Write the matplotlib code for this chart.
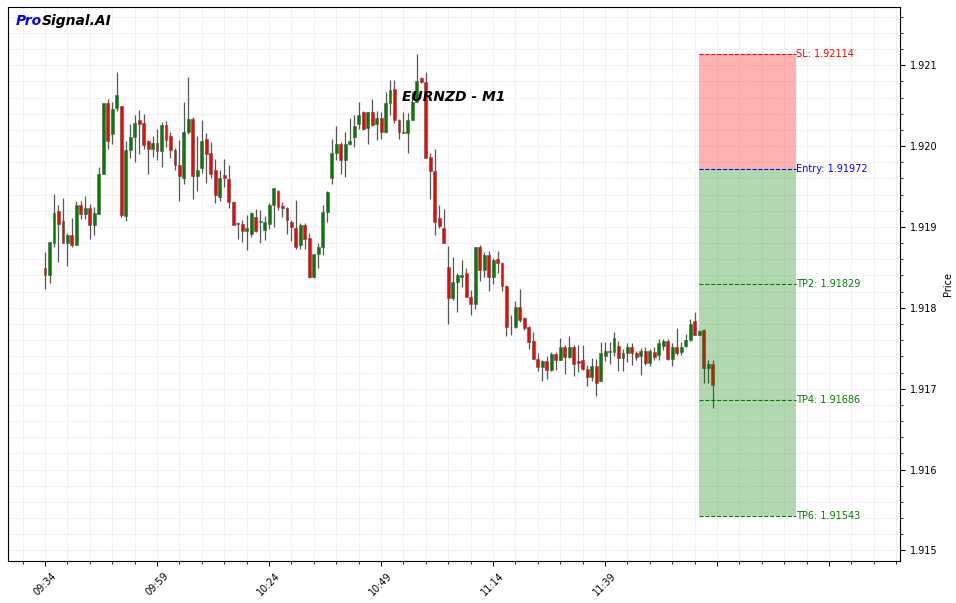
import numpy as np
import matplotlib
matplotlib.use("Agg")
import matplotlib.pyplot as plt
from matplotlib.ticker import MultipleLocator, FormatStrFormatter

# EURNZD 1-minute candles, 09:34 .. 12:03
opens = [1.91849, 1.91841, 1.91880, 1.91920, 1.91907, 1.91880, 1.91890, 1.91878, 1.91927, 1.91916,
         1.91924, 1.91903, 1.91916, 1.91966, 1.92053, 1.92015, 1.92047, 1.92050, 1.91913, 1.91995,
         1.92011, 1.92032, 1.92029, 1.92006, 1.91997, 1.92004, 1.91994, 1.92026, 1.92012, 1.91995,
         1.91977, 1.91960, 1.92018, 1.92034, 1.91963, 1.91973, 1.92009, 1.91991, 1.91970, 1.91937,
         1.91964, 1.91959, 1.91931, 1.91905, 1.91904, 1.91895, 1.91891, 1.91912, 1.91906, 1.91896,
         1.91904, 1.91927, 1.91945, 1.91926, 1.91924, 1.91906, 1.91899, 1.91878, 1.91903, 1.91886,
         1.91838, 1.91866, 1.91875, 1.91918, 1.91961, 1.91991, 1.92003, 1.91983, 1.92002, 1.92011,
         1.92027, 1.92042, 1.92022, 1.92042, 1.92027, 1.92035, 1.92017, 1.92053, 1.92070, 1.92032,
         1.92017, 1.92016, 1.92032, 1.92055, 1.92084, 1.92079, 1.91986, 1.91969, 1.91911, 1.91899,
         1.91851, 1.91812, 1.91832, 1.91838, 1.91843, 1.91814, 1.91805, 1.91875, 1.91847, 1.91865,
         1.91838, 1.91860, 1.91856, 1.91827, 1.91776, 1.91776, 1.91801, 1.91787, 1.91776, 1.91759,
         1.91737, 1.91727, 1.91734, 1.91723, 1.91743, 1.91736, 1.91752, 1.91739, 1.91751, 1.91734,
         1.91735, 1.91724, 1.91714, 1.91728, 1.91710, 1.91741, 1.91745, 1.91746, 1.91753, 1.91738,
         1.91744, 1.91751, 1.91744, 1.91741, 1.91747, 1.91732, 1.91745, 1.91742, 1.91753, 1.91759,
         1.91737, 1.91752, 1.91746, 1.91753, 1.91760, 1.91784, 1.91767, 1.91773, 1.91726, 1.91730]
highs = [1.91869, 1.91881, 1.91941, 1.91927, 1.91936, 1.91893, 1.91911, 1.91932, 1.91932, 1.91938,
         1.91929, 1.91925, 1.91974, 1.92053, 1.92058, 1.92055, 1.92092, 1.92050, 1.92006, 1.92027,
         1.92039, 1.92045, 1.92040, 1.92007, 1.92012, 1.92021, 1.92030, 1.92031, 1.92018, 1.91998,
         1.92008, 1.92054, 1.92085, 1.92036, 1.92013, 1.92032, 1.92016, 1.92005, 1.91984, 1.91970,
         1.91984, 1.91977, 1.91932, 1.91906, 1.91908, 1.91915, 1.91919, 1.91922, 1.91921, 1.91913,
         1.91930, 1.91948, 1.91946, 1.91931, 1.91925, 1.91908, 1.91933, 1.91905, 1.91905, 1.91892,
         1.91866, 1.91880, 1.91927, 1.91945, 1.92009, 1.92025, 1.92005, 1.92017, 1.92035, 1.92038,
         1.92055, 1.92044, 1.92042, 1.92058, 1.92044, 1.92042, 1.92067, 1.92082, 1.92082, 1.92033,
         1.92042, 1.92041, 1.92067, 1.92114, 1.92086, 1.92092, 1.91992, 1.91996, 1.91927, 1.91922,
         1.91877, 1.91863, 1.91843, 1.91859, 1.91849, 1.91822, 1.91875, 1.91878, 1.91869, 1.91870,
         1.91862, 1.91870, 1.91857, 1.91828, 1.91791, 1.91809, 1.91823, 1.91789, 1.91777, 1.91770,
         1.91744, 1.91735, 1.91741, 1.91745, 1.91746, 1.91763, 1.91754, 1.91765, 1.91754, 1.91754,
         1.91754, 1.91729, 1.91738, 1.91737, 1.91758, 1.91758, 1.91758, 1.91770, 1.91759, 1.91749,
         1.91757, 1.91756, 1.91747, 1.91750, 1.91752, 1.91749, 1.91752, 1.91762, 1.91762, 1.91762,
         1.91757, 1.91775, 1.91758, 1.91768, 1.91786, 1.91795, 1.91772, 1.91774, 1.91735, 1.91735]
lows = [1.91823, 1.91831, 1.91875, 1.91857, 1.91880, 1.91852, 1.91875, 1.91878, 1.91910, 1.91910,
        1.91885, 1.91890, 1.91916, 1.91966, 1.91996, 1.92002, 1.92044, 1.91912, 1.91907, 1.91985,
        1.91980, 1.91990, 1.91997, 1.91966, 1.91987, 1.91983, 1.91974, 1.91999, 1.91985, 1.91970,
        1.91932, 1.91953, 1.92015, 1.91934, 1.91945, 1.91967, 1.91954, 1.91961, 1.91930, 1.91932,
        1.91950, 1.91923, 1.91902, 1.91885, 1.91881, 1.91871, 1.91887, 1.91894, 1.91880, 1.91884,
        1.91898, 1.91900, 1.91921, 1.91912, 1.91891, 1.91883, 1.91873, 1.91873, 1.91873, 1.91837,
        1.91837, 1.91849, 1.91865, 1.91906, 1.91953, 1.91983, 1.91966, 1.91962, 1.92001, 1.91999,
        1.92021, 1.92020, 1.92003, 1.92025, 1.92007, 1.92009, 1.92016, 1.92038, 1.92029, 1.92009,
        1.92016, 1.91992, 1.92032, 1.92055, 1.92078, 1.91985, 1.91934, 1.91890, 1.91899, 1.91880,
        1.91780, 1.91810, 1.91795, 1.91826, 1.91813, 1.91791, 1.91799, 1.91833, 1.91838, 1.91821,
        1.91830, 1.91843, 1.91821, 1.91765, 1.91767, 1.91775, 1.91783, 1.91772, 1.91749, 1.91737,
        1.91722, 1.91709, 1.91712, 1.91722, 1.91723, 1.91735, 1.91718, 1.91738, 1.91716, 1.91721,
        1.91723, 1.91703, 1.91710, 1.91691, 1.91710, 1.91734, 1.91730, 1.91740, 1.91722, 1.91722,
        1.91733, 1.91729, 1.91735, 1.91717, 1.91729, 1.91728, 1.91735, 1.91735, 1.91748, 1.91735,
        1.91728, 1.91742, 1.91742, 1.91752, 1.91759, 1.91766, 1.91766, 1.91707, 1.91707, 1.91676]
closes = [1.91841, 1.91881, 1.91917, 1.91904, 1.91880, 1.91890, 1.91878, 1.91927, 1.91916, 1.91924,
          1.91903, 1.91917, 1.91966, 1.92053, 1.92006, 1.92046, 1.92063, 1.91915, 1.91995, 1.92011,
          1.92029, 1.92027, 1.92001, 1.91997, 1.92004, 1.91994, 1.92026, 1.92008, 1.91995, 1.91977,
          1.91963, 1.92017, 1.92033, 1.91963, 1.91971, 1.92006, 1.91990, 1.91965, 1.91940, 1.91961,
          1.91960, 1.91931, 1.91903, 1.91904, 1.91895, 1.91899, 1.91917, 1.91895, 1.91906, 1.91906,
          1.91927, 1.91948, 1.91925, 1.91924, 1.91908, 1.91900, 1.91875, 1.91903, 1.91885, 1.91838,
          1.91866, 1.91875, 1.91918, 1.91943, 1.91991, 1.92003, 1.91983, 1.92002, 1.92006, 1.92025,
          1.92038, 1.92021, 1.92042, 1.92026, 1.92035, 1.92017, 1.92053, 1.92069, 1.92032, 1.92017,
          1.92016, 1.92032, 1.92055, 1.92081, 1.92079, 1.91985, 1.91969, 1.91906, 1.91901, 1.91880,
          1.91812, 1.91832, 1.91840, 1.91841, 1.91814, 1.91805, 1.91875, 1.91847, 1.91865, 1.91838,
          1.91859, 1.91856, 1.91827, 1.91776, 1.91776, 1.91801, 1.91785, 1.91775, 1.91758, 1.91737,
          1.91727, 1.91734, 1.91723, 1.91743, 1.91736, 1.91752, 1.91739, 1.91751, 1.91731, 1.91732,
          1.91724, 1.91714, 1.91728, 1.91707, 1.91744, 1.91747, 1.91747, 1.91763, 1.91738, 1.91744,
          1.91751, 1.91744, 1.91739, 1.91747, 1.91732, 1.91747, 1.91739, 1.91757, 1.91759, 1.91737,
          1.91751, 1.91744, 1.91751, 1.91760, 1.91780, 1.91767, 1.91771, 1.91725, 1.91730, 1.91704]

tick_labels = ["09:34", "09:59", "10:24", "10:49", "11:14", "11:39", "", ""]

entry = 1.91972
sl = 1.92114
tp_names = ["TP2", "TP4", "TP6"]
tp_levels = [1.91829, 1.91686, 1.91543]
zone_start, zone_end = 146, 167.6

o = np.array(opens)
h = np.array(highs)
l = np.array(lows)
c = np.array(closes)
x = np.arange(len(o))
colors = np.where(c >= o, "green", "red")

fig = plt.figure(figsize=(9.56, 6.03), dpi=100)
ax = fig.add_axes([0.0084, 0.0697, 0.9331, 0.9187])

# candles
ax.vlines(x, l, h, color="#555555", linewidth=0.9, zorder=2)
body = np.maximum(np.abs(c - o), 0.000008)
ax.bar(x, body, bottom=np.minimum(o, c), width=0.65, color=colors,
       edgecolor="#555555", linewidth=0.4, zorder=3)

# trade zone (drawn over the candles)
ax.fill_between([zone_start, zone_end], entry, sl, color="red", alpha=0.3, lw=0, zorder=4)
ax.fill_between([zone_start, zone_end], tp_levels[-1], entry, color="green", alpha=0.3, lw=0, zorder=4)
ax.hlines(sl, zone_start, zone_end, colors="red", linestyles="--", linewidth=0.8, zorder=5)
ax.text(zone_end, sl, f"SL: {sl:.5f}", color="red", fontsize=7, va="center", ha="left")
ax.hlines(entry, zone_start, zone_end, colors="blue", linestyles="--", linewidth=0.8, zorder=5)
ax.text(zone_end, entry, f"Entry: {entry:.5f}", color="blue", fontsize=7, va="center", ha="left")
for name, lvl in zip(tp_names, tp_levels):
    ax.hlines(lvl, zone_start, zone_end, colors="green", linestyles="--", linewidth=0.8, zorder=5)
    ax.text(zone_end, lvl, f"{name}: {lvl:.5f}", color="green", fontsize=7, va="center", ha="left")

ax.set_xlim(-8.26, 190.85)
ax.set_ylim(1.91487, 1.92172)

ax.set_xticks(np.arange(0, 176, 25))
ax.set_xticklabels(tick_labels, rotation=45, fontsize=7)
ax.xaxis.set_minor_locator(MultipleLocator(5))

ax.yaxis.tick_right()
ax.yaxis.set_label_position("right")
ax.yaxis.set_major_locator(MultipleLocator(0.001))
ax.yaxis.set_minor_locator(MultipleLocator(0.0002))
ax.yaxis.set_major_formatter(FormatStrFormatter("%.3f"))
ax.tick_params(axis="y", labelsize=7)
ax.set_ylabel("Price", fontsize=7)

ax.grid(True, which="both", linestyle="--", linewidth=0.5, alpha=0.3)

ax.text(0.5, 0.8375, "EURNZD - M1", transform=ax.transAxes, fontsize=10,
        fontweight="bold", fontstyle="italic", ha="center", va="center")

# two-colour logo
t1 = fig.text(16 / 956, 1 - 25 / 603, "Pro", color="blue", fontsize=10,
              fontweight="bold", fontstyle="italic", va="baseline")
ax.annotate("Signal.AI", xy=(1, 0), xycoords=t1, color="black", fontsize=10,
            fontweight="bold", fontstyle="italic", va="bottom", ha="left",
            annotation_clip=False)

fig.savefig("out.png", dpi=100)
